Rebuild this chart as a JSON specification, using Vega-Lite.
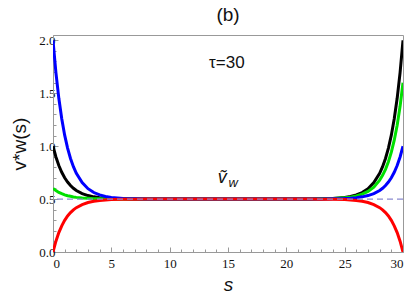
{
  "$schema": "https://vega.github.io/schema/vega-lite/v6.json",
  "width": 350,
  "height": 217,
  "autosize": {"type": "none"},
  "padding": {"left": 53, "top": 35, "right": 6, "bottom": 50},
  "title": {"text": "(b)", "font": "Liberation Sans", "fontSize": 19, "fontWeight": "normal", "offset": 9, "color": "#111"},
  "config": {
    "view": {"stroke": "#999999", "strokeWidth": 1},
    "axis": {"grid": false, "tickColor": "#999999", "domainColor": "#999999", "labelFont": "Liberation Serif", "labelFontSize": 13, "labelColor": "#111", "titleFont": "Liberation Sans", "titleFontWeight": "normal", "titleFontSize": 19, "titleColor": "#111"}
  },
  "datasets": {
    "curves": [
      {"s": 0, "black": 1.0, "green": 0.6, "blue": 2.0, "red": 0.0},
      {"s": 0.25, "black": 0.898, "green": 0.58, "blue": 1.695, "red": 0.102},
      {"s": 0.5, "black": 0.817, "green": 0.563, "blue": 1.452, "red": 0.183},
      {"s": 0.75, "black": 0.753, "green": 0.551, "blue": 1.259, "red": 0.247},
      {"s": 1, "black": 0.701, "green": 0.54, "blue": 1.104, "red": 0.299},
      {"s": 1.25, "black": 0.661, "green": 0.532, "blue": 0.982, "red": 0.34},
      {"s": 1.5, "black": 0.628, "green": 0.526, "blue": 0.884, "red": 0.372},
      {"s": 1.75, "black": 0.602, "green": 0.52, "blue": 0.806, "red": 0.398},
      {"s": 2, "black": 0.581, "green": 0.516, "blue": 0.743, "red": 0.419},
      {"s": 2.5, "black": 0.552, "green": 0.51, "blue": 0.655, "red": 0.448},
      {"s": 3, "black": 0.533, "green": 0.507, "blue": 0.598, "red": 0.467},
      {"s": 3.5, "black": 0.521, "green": 0.504, "blue": 0.562, "red": 0.479},
      {"s": 4, "black": 0.513, "green": 0.503, "blue": 0.539, "red": 0.487},
      {"s": 4.5, "black": 0.508, "green": 0.502, "blue": 0.525, "red": 0.492},
      {"s": 5, "black": 0.505, "green": 0.501, "blue": 0.516, "red": 0.495},
      {"s": 6, "black": 0.502, "green": 0.5, "blue": 0.506, "red": 0.498},
      {"s": 7, "black": 0.501, "green": 0.5, "blue": 0.503, "red": 0.499},
      {"s": 8, "black": 0.5, "green": 0.5, "blue": 0.501, "red": 0.5},
      {"s": 10, "black": 0.5, "green": 0.5, "blue": 0.5, "red": 0.5},
      {"s": 15, "black": 0.5, "green": 0.5, "blue": 0.5, "red": 0.5},
      {"s": 20, "black": 0.5, "green": 0.5, "blue": 0.5, "red": 0.5},
      {"s": 22, "black": 0.501, "green": 0.501, "blue": 0.5, "red": 0.5},
      {"s": 23, "black": 0.503, "green": 0.502, "blue": 0.501, "red": 0.499},
      {"s": 24, "black": 0.506, "green": 0.505, "blue": 0.502, "red": 0.498},
      {"s": 25, "black": 0.516, "green": 0.512, "blue": 0.505, "red": 0.495},
      {"s": 25.5, "black": 0.525, "green": 0.518, "blue": 0.508, "red": 0.492},
      {"s": 26, "black": 0.539, "green": 0.529, "blue": 0.513, "red": 0.487},
      {"s": 26.5, "black": 0.562, "green": 0.546, "blue": 0.521, "red": 0.479},
      {"s": 27, "black": 0.598, "green": 0.572, "blue": 0.533, "red": 0.467},
      {"s": 27.5, "black": 0.655, "green": 0.613, "blue": 0.552, "red": 0.448},
      {"s": 28, "black": 0.743, "green": 0.679, "blue": 0.581, "red": 0.419},
      {"s": 28.25, "black": 0.806, "green": 0.724, "blue": 0.602, "red": 0.398},
      {"s": 28.5, "black": 0.884, "green": 0.781, "blue": 0.628, "red": 0.372},
      {"s": 28.75, "black": 0.982, "green": 0.853, "blue": 0.661, "red": 0.34},
      {"s": 29, "black": 1.104, "green": 0.943, "blue": 0.701, "red": 0.299},
      {"s": 29.25, "black": 1.259, "green": 1.056, "blue": 0.753, "red": 0.247},
      {"s": 29.5, "black": 1.452, "green": 1.198, "blue": 0.817, "red": 0.183},
      {"s": 29.75, "black": 1.695, "green": 1.376, "blue": 0.898, "red": 0.102},
      {"s": 30, "black": 2.0, "green": 1.6, "blue": 1.0, "red": 0.0}
    ]
  },
  "resolve": {"axis": {"x": "independent", "y": "independent"}},
  "layer": [
    {
      "data": {"values": [{"s": 0, "v": 0}]},
      "mark": {"type": "point", "opacity": 0},
      "encoding": {
        "x": {"field": "s", "type": "quantitative", "scale": {"domain": [0, 30], "nice": false, "zero": false},
          "axis": {"orient": "bottom", "values": [1,2,3,4,6,7,8,9,11,12,13,14,16,17,18,19,21,22,23,24,26,27,28,29], "labels": false, "tickSize": -3, "domain": false, "title": null}},
        "y": {"field": "v", "type": "quantitative", "scale": {"domain": [0, 2.05], "nice": false, "zero": false},
          "axis": {"orient": "left", "values": [0.1,0.2,0.3,0.4,0.6,0.7,0.8,0.9,1.1,1.2,1.3,1.4,1.6,1.7,1.8,1.9], "labels": false, "tickSize": -3, "domain": false, "title": null}}
      }
    },
    {
      "data": {"name": "curves"},
      "transform": [{"fold": ["black", "green", "blue", "red"], "as": ["series", "value"]}],
      "mark": {"type": "line", "strokeWidth": 3, "clip": true},
      "encoding": {
        "x": {"field": "s", "type": "quantitative", "scale": {"domain": [0, 30], "nice": false, "zero": false},
          "axis": {"orient": "bottom", "values": [0,5,10,15,20,25,30], "tickSize": -5, "labelPadding": 10, "title": "s", "titleFontStyle": "italic", "titlePadding": 5}},
        "y": {"field": "value", "type": "quantitative", "scale": {"domain": [0, 2.05], "nice": false, "zero": false},
          "axis": {"orient": "left", "values": [0,0.5,1,1.5,2], "format": ".1f", "tickSize": -5, "labelPadding": 3, "title": "v*w(s)", "titlePadding": 9}},
        "color": {"field": "series", "type": "nominal", "scale": {"domain": ["black", "green", "blue", "red"], "range": ["#000000", "#00e000", "#0000ff", "#ff0000"]}, "legend": null}
      }
    },
    {
      "data": {"values": [{"v": 0.5}]},
      "mark": {"type": "rule", "strokeDash": [6, 4], "color": "#8a8ad0", "strokeWidth": 1.2},
      "encoding": {"y": {"field": "v", "type": "quantitative", "axis": null}}
    },
    {
      "data": {"values": [{"s": 14.9, "v": 1.79, "label": "τ=30"}]},
      "mark": {"type": "text", "font": "Liberation Sans", "fontSize": 17, "color": "#111"},
      "encoding": {
        "x": {"field": "s", "type": "quantitative", "axis": null},
        "y": {"field": "v", "type": "quantitative", "axis": null},
        "text": {"field": "label"}
      }
    },
    {
      "data": {"values": [{"s": 14.5, "v": 0.7, "label": "ṽ", "sub": "w"}]},
      "layer": [
        {"mark": {"type": "text", "font": "Liberation Sans", "fontSize": 18, "fontStyle": "italic", "color": "#111"},
         "encoding": {"x": {"field": "s", "type": "quantitative", "axis": null}, "y": {"field": "v", "type": "quantitative", "axis": null}, "text": {"field": "label"}}},
        {"mark": {"type": "text", "font": "Liberation Sans", "fontSize": 13, "fontStyle": "italic", "color": "#111", "dx": 11, "dy": 5},
         "encoding": {"x": {"field": "s", "type": "quantitative", "axis": null}, "y": {"field": "v", "type": "quantitative", "axis": null}, "text": {"field": "sub"}}}
      ]
    }
  ]
}
